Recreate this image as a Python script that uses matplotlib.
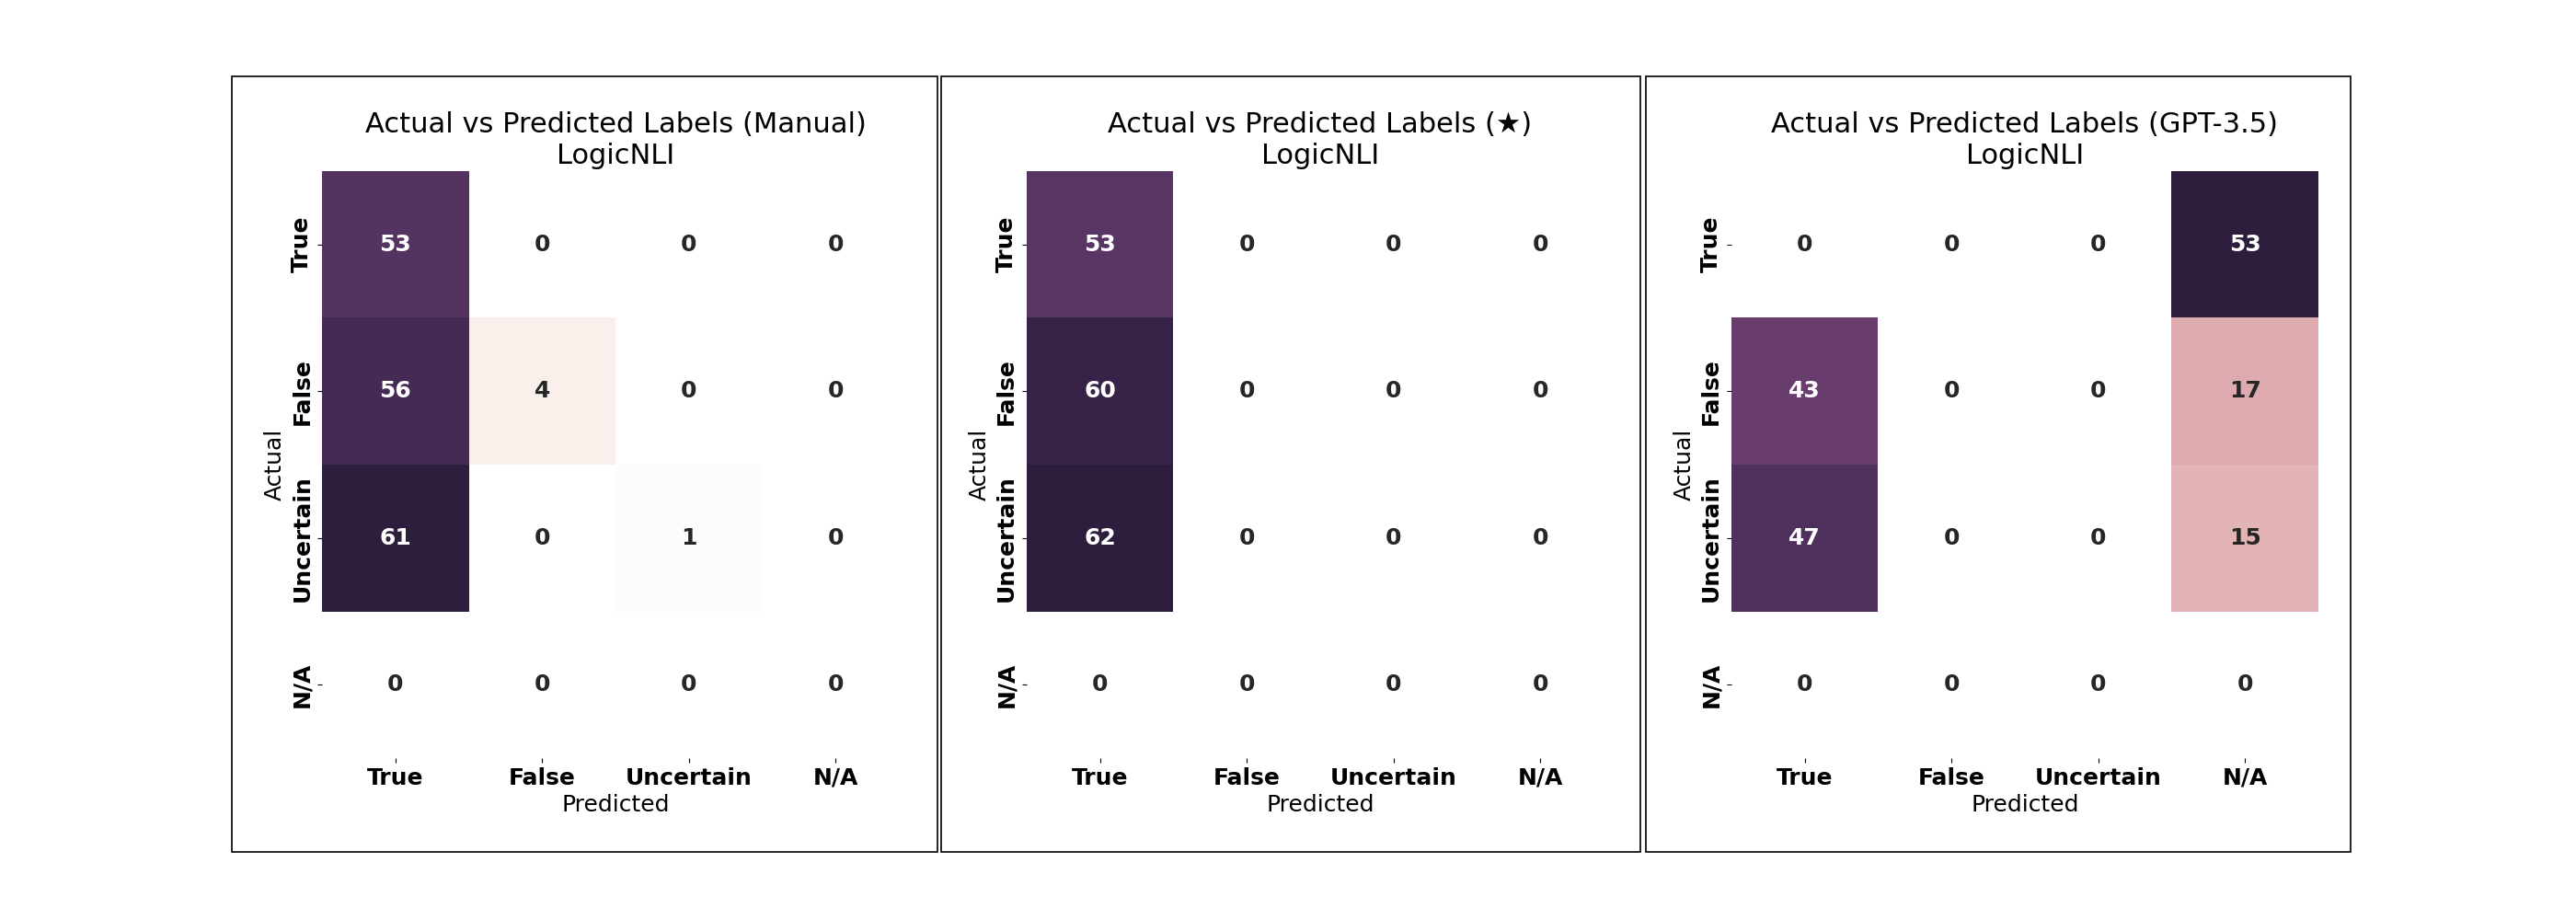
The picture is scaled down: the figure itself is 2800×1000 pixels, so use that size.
import numpy as np
import matplotlib
matplotlib.use("Agg")
import matplotlib.pyplot as plt
import seaborn as sns
from matplotlib.patches import Rectangle

labels = ["True", "False", "Uncertain", "N/A"]
manual_counts = [[53, 0, 0, 0],
                 [56, 4, 0, 0],
                 [61, 0, 1, 0],
                 [0, 0, 0, 0]]
star_counts = [[53, 0, 0, 0],
               [60, 0, 0, 0],
               [62, 0, 0, 0],
               [0, 0, 0, 0]]
gpt_counts = [[0, 0, 0, 53],
              [43, 0, 0, 17],
              [47, 0, 0, 15],
              [0, 0, 0, 0]]
titles = ["Actual vs Predicted Labels (Manual)\nLogicNLI",
          "Actual vs Predicted Labels (\u2605)\nLogicNLI",
          "Actual vs Predicted Labels (GPT-3.5)\nLogicNLI"]

cmap = sns.cubehelix_palette(light=1, as_cmap=True)

fig, axes = plt.subplots(1, 3, figsize=(28, 10), dpi=100)
for ax, data, title in zip(axes, [manual_counts, star_counts, gpt_counts], titles):
    sns.heatmap(np.array(data), annot=True, fmt="d", cmap=cmap, cbar=False,
                square=True, xticklabels=labels, yticklabels=labels, ax=ax,
                annot_kws={"size": 18, "weight": "bold"})
    ax.set_title(title, fontsize=22)
    ax.set_xlabel("Predicted", fontsize=18)
    ax.set_ylabel("Actual", fontsize=18)
    ax.set_xticklabels(labels, fontsize=18, fontweight="bold", rotation=0)
    ax.set_yticklabels(labels, fontsize=18, fontweight="bold", rotation=90, va="center")

# panel frames (figure fraction)
frames = [(252, 1019), (1023, 1783), (1789, 2555)]
W, H = 2800, 1000
for x0, x1 in frames:
    fig.add_artist(Rectangle((x0 / W, 1 - 926 / H), (x1 - x0) / W, (926 - 83) / H,
                             transform=fig.transFigure, fill=False,
                             edgecolor="black", linewidth=1.2))

fig.savefig("out.png", dpi=100)
